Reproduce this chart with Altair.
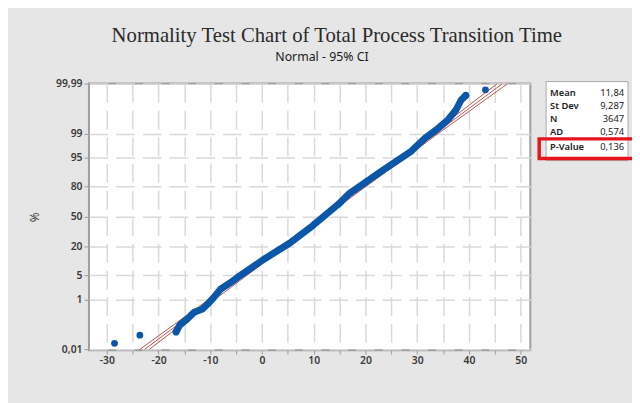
import altair as alt
import pandas as pd
from statistics import NormalDist

nd = NormalDist()

# ---- data ----
band_x = [-16.6, -15.9, -14.4, -13.1, -11.5, -10.5, -9.3, -8.0, -6.1, -4.8, 0.3, 5.4,
          9.8, 14.9, 16.8, 23.2, 28.9, 29.5, 31.5, 33.7, 35.9, 37.5, 38.5, 39.4]
band_pct = [0.062, 0.118, 0.212, 0.368, 0.48, 0.714, 1.19, 2.12, 3.22, 4.36, 11.5, 23.0,
            40.0, 64.2, 73.9, 90.0, 96.7, 97.3, 98.6, 99.25, 99.66, 99.86, 99.946, 99.966]

out_x = [-28.5, -23.6, -16.6, 39.4, 43.2]
out_pct = [0.0193, 0.045, 0.062, 99.966, 99.981]

fit_x = [-22.7, 46.4]
fit_pct = [0.01, 99.99]

ci_pct = [0.01, 1, 50, 99, 99.99]
ci_lo = [-23.6, -10.35, 11.54, 32.85, 45.4]
ci_hi = [-21.8, -9.17, 12.14, 34.03, 47.4]

y_ticks = [0.01, 1, 5, 20, 50, 80, 95, 99, 99.99]
y_tick_labels = ["0,01", "1", "5", "20", "50", "80", "95", "99", "99,99"]
x_ticks = list(range(-30, 55, 5))

stat_names = ["Mean", "St Dev", "N", "AD", "P-Value"]
stat_values = ["11,84", "9,287", "3647", "0,574", "0,136"]

title_text = "Normality Test Chart of Total Process Transition Time"
subtitle_text = "Normal - 95% CI"

# ---- frames ----
def z(p):
    return nd.inv_cdf(p / 100.0)

band_df = pd.DataFrame({"x": band_x, "z": [z(p) for p in band_pct]})
out_df = pd.DataFrame({"x": out_x, "z": [z(p) for p in out_pct]})
ci_df = pd.concat([
    pd.DataFrame({"x": fit_x, "z": [z(p) for p in fit_pct], "s": "fit"}),
    pd.DataFrame({"x": ci_lo, "z": [z(p) for p in ci_pct], "s": "lo"}),
    pd.DataFrame({"x": ci_hi, "z": [z(p) for p in ci_pct], "s": "hi"}),
])

y_vals = [z(p) for p in y_ticks]
parts = []
for v, lab in zip(y_vals, y_tick_labels):
    parts.append(f"abs(datum.value - ({v:.5f})) < 0.001 ? '{lab}'")
y_label_expr = " : ".join(parts) + " : ''"

W, H = 447, 270
LABEL_FONT = "Noto Sans"

xs = alt.Scale(domain=[-33.44, 51.87], nice=False, zero=False)
ys = alt.Scale(domain=[-3.74, 3.73], nice=False, zero=False)

x_axis = alt.Axis(
    values=x_ticks, tickCount=40, title=None, grid=True, domain=False, labelOverlap=False,
    labelExpr="datum.value % 10 == 0 ? ('' + datum.value) : ''",
    tickSize=4, tickColor="#9a9a9a", labelPadding=2,
    labelFont=LABEL_FONT, labelFontSize=10.5, labelColor="#3a3a3a", labelFontWeight=600,
    gridColor="#d9d9d9", gridWidth=1.5, gridDash=[19, 8])
y_axis = alt.Axis(
    values=y_vals, tickCount=40, labelExpr=y_label_expr, title="%", grid=True, domain=False,
    labelOverlap=False,
    tickSize=5, tickColor="#9a9a9a", labelPadding=2,
    labelFont=LABEL_FONT, labelFontSize=10.5, labelColor="#3a3a3a", labelFontWeight=600,
    titleFont=LABEL_FONT, titleFontSize=12, titleFontWeight="normal", titleColor="#3a3a3a",
    titleX=-48, titleY=H / 2,
    gridColor="#d9d9d9", gridWidth=1.5, gridDash=[19, 8])

x_enc = alt.X("x:Q", scale=xs, axis=x_axis)
y_enc = alt.Y("z:Q", scale=ys, axis=y_axis)

RED = "#b0403a"
BLUE = "#0a56a8"

ci_layer = alt.Chart(ci_df).mark_line(color=RED, strokeWidth=0.9).encode(
    x=x_enc, y=y_enc, detail="s:N")

band_layer = alt.Chart(band_df).mark_line(
    color=BLUE, strokeWidth=7, strokeCap="round", strokeJoin="round").encode(
    x=x_enc, y=y_enc, order="x:Q")

pts_layer = alt.Chart(out_df).mark_point(
    filled=True, shape="circle", size=48, color=BLUE, opacity=1).encode(
    x=x_enc, y=y_enc)

# title & subtitle
title_layer = alt.Chart(pd.DataFrame({"t": [title_text]})).mark_text(
    font="Liberation Serif", fontSize=21, color="#2a2a2a", align="center", baseline="middle").encode(
    text="t:N", x=alt.value(251), y=alt.value(-48))
sub_layer = alt.Chart(pd.DataFrame({"t": [subtitle_text]})).mark_text(
    font=LABEL_FONT, fontSize=12.5, color="#1a1a1a", align="center", baseline="middle").encode(
    text="t:N", x=alt.value(236), y=alt.value(-27))

# stats box
box = alt.Chart(pd.DataFrame({"a": [0]})).mark_rect(
    fill="white", stroke="#a8a8a8", strokeWidth=1).encode(
    x=alt.value(463), x2=alt.value(546), y=alt.value(-2), y2=alt.value(78))
row_y = [9.5, 22.8, 36, 49.3, 64]
stat_layers = []
for nm, val, yy in zip(stat_names, stat_values, row_y):
    stat_layers.append(alt.Chart(pd.DataFrame({"t": [nm]})).mark_text(
        font=LABEL_FONT, fontSize=9.5, color="#222", align="left", baseline="middle",
        fontWeight=600).encode(text="t:N", x=alt.value(467), y=alt.value(yy)))
    stat_layers.append(alt.Chart(pd.DataFrame({"t": [val]})).mark_text(
        font=LABEL_FONT, fontSize=9.5, color="#222", align="right", baseline="middle").encode(
        text="t:N", x=alt.value(542), y=alt.value(yy)))
hl = alt.Chart(pd.DataFrame({"a": [0]})).mark_rect(
    fill=None, stroke="#e8141b", strokeWidth=3.5).encode(
    x=alt.value(456), x2=alt.value(560), y=alt.value(56), y2=alt.value(76))

chart = alt.layer(
    ci_layer, band_layer, pts_layer, title_layer, sub_layer, box, *stat_layers, hl
).properties(
    width=W, height=H,
    autosize=alt.AutoSizeParams(type="none"),
    padding={"left": 82, "top": 74, "right": 632 - 82 - W, "bottom": 395 - 74 - H},
    background="#e6e6e6",
).configure_view(stroke="#9e9e9e", strokeWidth=2, fill="white")

chart.save("out.html", embed_options={"renderer": "svg", "actions": False})
